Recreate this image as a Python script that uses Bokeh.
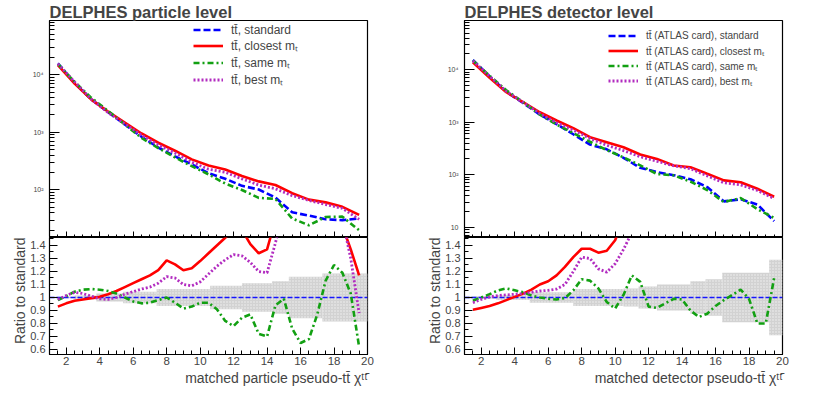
from bokeh.plotting import figure
from bokeh.layouts import row, column
from bokeh.models import (Range1d, FixedTicker, SingleIntervalTicker, Legend,
                          LegendItem, Title, CustomLabelingPolicy)
from bokeh.embed import file_html
from bokeh.resources import INLINE

FONT = "Liberation Sans"

# ---------------- data ----------------
x_top = [1.5, 2.5, 3.5, 4.5, 5.5, 6.5, 7.5, 8.5, 9.5, 10.5,
         11.5, 12.5, 13.5, 14.5, 15.5, 16.5, 17.5, 18.5, 19.5]

part_standard = [15700, 7180, 3720, 2234, 1370, 838, 545, 382, 278, 195,
                 157, 118, 102, 74, 41, 36, 31, 30, 32]
part_closest = [14650, 7000, 3700, 2290, 1480, 955, 660, 480, 340, 265,
                226, 175, 141, 122, 88, 68, 61, 51, 37]
part_same = [15400, 7500, 3960, 2350, 1370, 800, 534, 367, 259, 187,
             129, 100, 73, 70, 32, 24.5, 34, 34.5, 20]
part_best = [15460, 7470, 3760, 2200, 1404, 892, 605, 439, 303, 230,
             203, 156, 122, 105, 80, 66, 56, 48, 31]

det_standard = [15400, 7500, 3800, 2330, 1400, 920, 590, 375, 305, 210,
                135, 112, 98, 82, 58, 31, 34, 27, 13]
det_closest = [13960, 7030, 3740, 2410, 1550, 1080, 770, 519, 417, 334,
               243, 200, 150, 139, 104, 78, 72, 54, 38]
det_same = [15000, 7690, 4070, 2420, 1400, 906, 622, 424, 294, 214,
            151, 103, 97, 74, 51, 30, 36, 22, 15]
det_best = [14800, 7540, 3880, 2400, 1470, 980, 708, 491, 364, 288,
            220, 180, 148, 130, 95, 70, 64, 50, 35]

x_ratio = [1.5, 2.0, 2.5, 3.0, 3.5, 4.0, 4.5, 5.0, 5.5, 6.0, 6.5, 7.0, 7.5,
           8.0, 8.5, 9.0, 9.5, 10.0, 10.5, 11.0, 11.5, 12.0, 12.5, 13.0,
           13.5, 14.0, 14.5, 15.0, 15.5, 16.0, 16.5, 17.0, 17.5, 18.0, 18.5,
           19.0, 19.5]

part_r_closest = [0.93, 0.955, 0.975, 0.985, 0.995, 1.005, 1.025, 1.05, 1.08,
                  1.11, 1.14, 1.17, 1.21, 1.285, 1.255, 1.21, 1.225, 1.28,
                  1.34, 1.40, 1.46, 1.52, 1.52, 1.41, 1.34, 1.37, 1.6,
                  1.9, 2.1, 2.0, 1.9, 1.8, 1.75, 1.65, 1.55, 1.37, 1.17]
part_r_same = [0.98, 1.01, 1.045, 1.06, 1.065, 1.06, 1.05, 1.03, 1.0,
               0.97, 0.955, 0.96, 0.98, 1.0, 0.96, 0.915, 0.93, 0.96,
               0.96, 0.91, 0.82, 0.78, 0.845, 0.87, 0.72, 0.70, 0.94,
               0.99, 0.76, 0.65, 0.68, 0.87, 1.13, 1.25, 1.19, 1.03, 0.62]
part_r_best = [0.985, 1.015, 1.04, 1.03, 1.01, 0.99, 0.985, 1.0, 1.025,
               1.045, 1.065, 1.08, 1.11, 1.16, 1.15, 1.10, 1.09, 1.12,
               1.18, 1.24, 1.29, 1.33, 1.32, 1.27, 1.20, 1.19, 1.42,
               1.7, 1.9, 1.9, 1.85, 1.8, 1.75, 1.7, 1.6, 1.3, 0.88]

det_r_closest = [0.905, 0.92, 0.935, 0.955, 0.98, 1.005, 1.03, 1.06, 1.10,
                 1.125, 1.17, 1.235, 1.31, 1.375, 1.375, 1.345, 1.36, 1.44,
                 1.6, 1.75, 1.8, 1.8, 1.78, 1.65, 1.55, 1.6, 1.7,
                 1.7, 1.68, 2.0, 2.6, 2.4, 2.2, 2.1, 2.1, 2.4, 2.9]
det_r_same = [0.975, 1.0, 1.025, 1.055, 1.07, 1.055, 1.04, 1.015, 1.0,
              0.99, 0.985, 0.995, 1.055, 1.14, 1.13, 1.07, 0.965, 0.915,
              1.02, 1.17, 1.12, 0.93, 0.92, 0.955, 0.99, 0.985, 0.9,
              0.85, 0.875, 0.935, 0.98, 1.02, 1.06, 0.99, 0.8, 0.8, 1.15]
det_r_best = [0.96, 0.985, 1.005, 1.015, 1.02, 1.025, 1.03, 1.04, 1.05,
              1.055, 1.065, 1.1, 1.2, 1.31, 1.30, 1.22, 1.195, 1.26,
              1.37, 1.5, 1.6, 1.65, 1.6, 1.55, 1.52, 1.55, 1.6,
              1.6, 1.55, 1.9, 2.3, 2.2, 1.9, 1.9, 1.9, 2.3, 2.6]

ref_x = [1, 20]
ref_ratio = [1.0, 1.0]

band_part_edges = [1.0, 2.5, 3.8, 5.4, 7.4, 10.6, 12.5, 14.3, 15.3, 17.3, 20.0]
band_part_halfwidth = [0.006, 0.015, 0.03, 0.045, 0.065, 0.09, 0.11, 0.125, 0.16, 0.185]
band_det_edges = [1.0, 2.9, 4.9, 7.5, 10.5, 11.4, 12.5, 14.5, 15.4, 16.4, 19.2, 20.0]
band_det_halfwidth = [0.01, 0.02, 0.04, 0.065, 0.07, 0.085, 0.1, 0.125, 0.14, 0.19, 0.29]

labels_part = ["tt\u0304, standard", "tt\u0304, closest m\u209c",
               "tt\u0304, same m\u209c", "tt\u0304, best m\u209c"]
labels_det = ["tt\u0304 (ATLAS card), standard", "tt\u0304 (ATLAS card), closest m\u209c",
              "tt\u0304 (ATLAS card), same m\u209c", "tt\u0304 (ATLAS card), best m\u209c"]

ratio_ticks = [0.6, 0.7, 0.8, 0.9, 1.0, 1.1, 1.2, 1.3, 1.4]

# ---------------- style ----------------
COLORS = ["#0000ff", "#ff0000", "#12a012", "#b22cc0"]
DASHES = ["7 3", "solid", "6 3 2 3", "2 2"]
WIDTHS = [2.6, 2.6, 2.6, 2.8]
FRAME_W = 318
TOP_H = 217
BOT_H = 117


def style_common(p):
    p.xgrid.grid_line_color = None
    p.ygrid.grid_line_color = None
    p.outline_line_color = "black"
    p.outline_line_width = 1.2
    p.background_fill_color = "white"
    p.border_fill_color = "white"


def build(title, labels, top_series, ratio_series, band_edges, band_hw,
          y_lo, y_hi, log_ticks, log_labels, xlabel, legend_font,
          b_left, b_right):
    top = figure(frame_width=FRAME_W, frame_height=TOP_H,
                 x_range=Range1d(1, 20), y_range=Range1d(y_lo, y_hi),
                 y_axis_type="log", output_backend="svg",
                 toolbar_location=None, min_border_left=b_left,
                 min_border_right=b_right, min_border_top=20,
                 min_border_bottom=0)
    style_common(top)
    top.title.visible = False
    rends = []
    for ys, c, d, w in zip(top_series, COLORS, DASHES, WIDTHS):
        rends.append(top.line(x_top, ys, line_color=c, line_dash=d,
                              line_width=w))
    xa = top.xaxis[0]
    xa.ticker = SingleIntervalTicker(interval=2, num_minor_ticks=4)
    xa.major_label_text_font_size = "0px"
    xa.major_label_policy = CustomLabelingPolicy(
        code="for (const i of Array.from(indices)) { indices.unset(i) }")
    xa.major_label_standoff = 0
    xa.major_tick_in = 6
    xa.major_tick_out = 0
    xa.minor_tick_in = 3
    xa.minor_tick_out = 0
    ya = top.yaxis[0]
    minor = [k * 10 ** e for e in range(0, 5) for k in range(2, 10)]
    ya.ticker = FixedTicker(ticks=log_ticks, minor_ticks=minor)
    ya.major_label_overrides = dict(zip(log_ticks, log_labels))
    ya.major_label_text_font_size = "7px"
    ya.major_label_text_font = FONT
    ya.major_label_standoff = 6
    ya.major_tick_in = 10
    ya.major_tick_out = 0
    ya.minor_tick_in = 5
    ya.minor_tick_out = 0

    items = [LegendItem(label=l, renderers=[r]) for l, r in zip(labels, rends)]
    leg = Legend(items=items, location=(144, 149), glyph_width=30,
                 glyph_height=15, label_height=15, label_standoff=8,
                 spacing=0, padding=0, margin=0,
                 label_text_font=FONT, label_text_font_size=legend_font,
                 label_text_line_height=1.0,
                 border_line_color=None, background_fill_alpha=0)
    top.add_layout(leg)
    top.add_layout(Title(text=title, align="left", text_font=FONT,
                         text_font_style="bold", text_font_size="16.5px",
                         standoff=0, offset=0), "above")

    bot = figure(frame_width=FRAME_W, frame_height=BOT_H,
                 x_range=top.x_range, y_range=Range1d(0.5615, 1.4615),
                 output_backend="svg", toolbar_location=None,
                 min_border_left=b_left, min_border_right=b_right,
                 min_border_top=0, min_border_bottom=40)
    style_common(bot)
    lefts = band_edges[:-1]
    rights = band_edges[1:]
    bot.quad(left=lefts, right=rights,
             bottom=[1 - h for h in band_hw], top=[1 + h for h in band_hw],
             fill_color="#d2d2d2", line_color=None,
             hatch_pattern="dot", hatch_color="#f2f2f2", hatch_scale=3)
    bot.line(ref_x, ref_ratio, line_color="#1515ff", line_dash="5 2",
             line_width=1.3)
    for ys, c, d, w in zip(ratio_series, COLORS[1:], DASHES[1:], WIDTHS[1:]):
        bot.line(x_ratio, ys, line_color=c, line_dash=d, line_width=w)

    bx = bot.xaxis[0]
    bx.ticker = SingleIntervalTicker(interval=2, num_minor_ticks=4)
    bx.major_label_text_font = FONT
    bx.major_label_text_font_size = "11.5px"
    bx.major_label_standoff = 2
    bx.major_tick_in = 7
    bx.major_tick_out = 0
    bx.minor_tick_in = 4
    bx.minor_tick_out = 0
    by = bot.yaxis[0]
    by.ticker = FixedTicker(ticks=ratio_ticks,
                            minor_ticks=[t + 0.05 for t in ratio_ticks] + [0.55])
    by.major_label_overrides = {1: "1"}
    by.major_label_text_font = FONT
    by.major_label_text_font_size = "11px"
    by.major_label_standoff = 4
    by.major_tick_in = 8
    by.major_tick_out = 0
    by.minor_tick_in = 4
    by.minor_tick_out = 0

    bot.add_layout(Title(text=xlabel, align="right", text_font=FONT,
                         text_font_style="normal", text_font_size="14px",
                         standoff=1, offset=0), "below")
    bot.add_layout(Title(text="Ratio to standard", align="right",
                         text_font=FONT, text_font_style="normal",
                         text_font_size="14px", standoff=0, offset=0), "left")
    return column(top, bot)


left = build("DELPHES particle level", labels_part,
             [part_standard, part_closest, part_same, part_best],
             [part_r_closest, part_r_same, part_r_best],
             band_part_edges, band_part_halfwidth, 15, 8.7e4,
             [100, 1000, 10000], ["10\u00b2", "10\u00b3", "10\u2074"],
             "matched particle pseudo-tt\u0304 \u03c7\u1d57\u1d57\u0304",
             "12px", 49, 56)
right = build("DELPHES detector level", labels_det,
              [det_standard, det_closest, det_same, det_best],
              [det_r_closest, det_r_same, det_r_best],
              band_det_edges, band_det_halfwidth, 6.35, 8.7e4,
              [10, 100, 1000, 10000], ["10", "10\u00b2", "10\u00b3", "10\u2074"],
              "matched detector pseudo-tt\u0304 \u03c7\u1d57\u1d57\u0304",
              "10px", 41, 46)

layout = row(left, right)
open("out.html", "w").write(file_html(layout, INLINE))
